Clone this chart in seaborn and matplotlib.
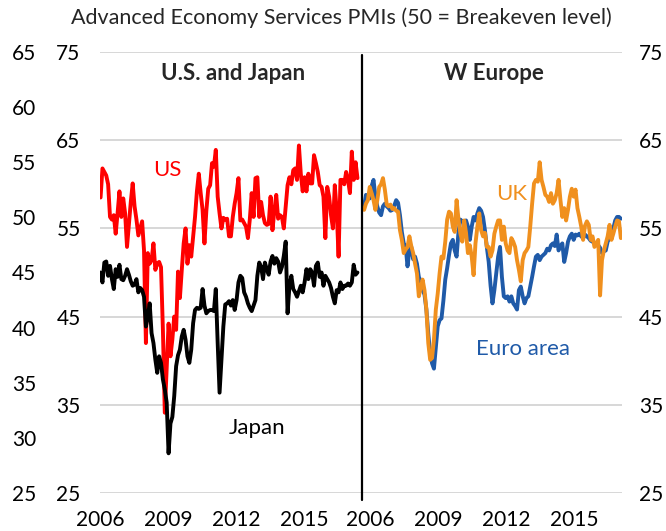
import numpy as np
import pandas as pd
import matplotlib
matplotlib.use("Agg")
import matplotlib.pyplot as plt
from matplotlib.lines import Line2D
from matplotlib.transforms import ScaledTranslation
import seaborn as sns

# ---------------- data (monthly, Jan 2006 .. May 2017) ----------------
us = [58.5, 61.8, 61.4, 61.0, 60.0, 56.3, 56.0, 56.5, 54.4, 56.7, 59.2, 56.3,
      58.4, 56.7, 52.9, 55.5, 58.0, 60.1, 57.5, 56.0, 54.2, 55.0, 55.8, 52.5,
      42.0, 52.2, 51.0, 51.4, 53.3, 50.3, 51.0, 51.2, 50.6, 43.5, 34.1, 39.3,
      44.2, 40.5, 42.4, 45.0, 43.5, 50.1, 47.1, 50.3, 53.3, 55.0, 51.0, 53.1,
      51.8, 54.0, 56.3, 59.2, 61.2, 59.0, 57.1, 53.3, 57.0, 59.5, 59.9, 62.4,
      62.0, 63.9, 58.6, 56.7, 55.0, 56.2, 56.0, 56.1, 54.1, 54.1, 56.3, 57.8,
      59.0, 60.7, 55.9, 56.0, 55.6, 55.2, 53.9, 56.0, 59.0, 56.3, 60.7, 60.8,
      56.3, 58.0, 56.5, 55.6, 55.4, 55.5, 58.6, 54.8, 57.0, 58.8, 56.1, 56.5,
      56.3, 55.0, 57.5, 59.9, 60.8, 60.0, 61.6, 61.8, 60.5, 64.4, 61.2, 59.2,
      60.8, 59.2, 61.2, 60.1, 60.1, 63.3, 62.4, 61.4, 59.9, 59.7, 58.6, 53.9,
      59.7, 58.6, 56.5, 55.0, 59.9, 57.0, 51.8, 60.5, 60.5, 60.0, 61.4, 60.5,
      59.0, 63.7, 60.5, 62.5, 60.7]

japan = [45.0, 44.1, 45.9, 46.0, 44.7, 45.6, 44.4, 43.5, 45.3, 44.6, 45.7, 44.4,
         44.3, 44.7, 45.3, 44.8, 44.2, 43.8, 43.9, 44.4, 43.2, 43.6, 43.4, 42.8,
         40.1, 41.0, 42.2, 39.5, 38.6, 37.1, 35.9, 37.4, 36.8, 35.3, 34.4, 33.2,
         28.6, 31.3, 31.9, 33.8, 36.5, 37.5, 38.0, 39.2, 39.8, 38.9, 37.4, 36.8,
         38.0, 40.4, 41.6, 41.8, 41.7, 41.8, 43.5, 42.0, 41.3, 41.5, 41.6, 41.6,
         41.5, 43.5, 38.6, 34.1, 37.1, 40.1, 42.1, 42.2, 42.4, 42.0, 42.5, 41.6,
         42.5, 44.1, 44.7, 44.5, 43.2, 42.8, 42.2, 41.8, 41.5, 42.0, 42.5, 44.7,
         45.9, 45.5, 44.4, 45.9, 45.3, 44.8, 46.0, 46.5, 45.8, 46.3, 46.0, 45.0,
         45.5, 46.5, 47.8, 41.3, 43.8, 44.7, 43.5, 43.2, 42.8, 43.3, 43.8, 43.2,
         44.1, 45.3, 44.4, 45.3, 45.0, 43.8, 45.6, 45.9, 44.6, 45.0, 43.8, 44.7,
         44.4, 44.1, 43.6, 42.8, 42.2, 43.4, 43.2, 44.1, 43.5, 43.8, 43.8, 44.0,
         43.8, 44.1, 45.7, 44.8, 45.0]

euro = [57.5, 58.8, 58.5, 58.4, 59.8, 60.5, 58.6, 57.5, 56.8, 56.5, 57.5, 57.8,
        57.5, 57.3, 57.0, 57.1, 57.6, 58.2, 57.9, 56.5, 54.6, 53.3, 53.0, 50.7,
        52.5, 52.9, 51.5, 51.8, 51.0, 49.5, 49.0, 48.0, 47.5, 45.8, 43.1, 40.8,
        39.7, 39.1, 41.5, 43.9, 44.6, 44.8, 46.8, 49.2, 50.5, 52.0, 53.3, 53.7,
        52.5, 51.8, 54.6, 56.0, 55.8, 55.8, 55.9, 55.2, 53.7, 55.2, 56.3, 55.9,
        56.7, 57.3, 57.0, 56.3, 54.8, 52.9, 51.2, 48.5, 46.5, 48.0, 49.9, 51.8,
        52.9, 49.5, 47.3, 47.1, 47.3, 46.7, 47.3, 46.5, 46.2, 45.8, 48.0, 48.4,
        47.3, 46.5, 47.1, 47.3, 48.4, 49.5, 50.7, 51.8, 52.0, 51.4, 51.8, 52.0,
        52.2, 52.7, 52.5, 53.1, 53.3, 53.0, 54.3, 52.5, 53.0, 53.3, 51.2, 52.2,
        53.5, 54.1, 54.4, 53.7, 54.3, 54.2, 54.4, 54.1, 53.9, 54.3, 54.1, 53.9,
        53.6, 53.5, 53.3, 53.1, 53.1, 52.8, 52.2, 52.4, 52.5, 53.5, 53.9, 54.6,
        55.0, 55.9, 56.3, 56.3, 56.1]

uk = [57.1, 57.8, 58.2, 59.7, 59.0, 58.2, 57.1, 58.2, 59.7, 60.0, 60.7, 59.4,
      57.7, 57.5, 57.7, 57.2, 57.3, 57.0, 56.9, 54.8, 53.7, 52.2, 52.6, 52.9,
      54.1, 53.0, 52.2, 51.0, 49.9, 47.3, 48.3, 49.2, 48.0, 45.8, 42.0, 40.1,
      40.3, 42.4, 45.8, 47.6, 49.9, 51.8, 51.6, 53.5, 56.0, 56.9, 56.7, 55.2,
      54.6, 58.2, 56.0, 54.4, 53.5, 55.9, 54.5, 52.2, 53.1, 51.8, 49.7, 53.3,
      55.2, 56.7, 54.8, 54.1, 54.5, 52.9, 52.9, 51.8, 52.5, 54.4, 55.2, 55.9,
      55.9, 53.7, 55.2, 53.3, 52.5, 52.2, 53.9, 53.5, 52.9, 51.4, 50.3, 49.0,
      51.4, 52.2, 52.5, 52.9, 55.2, 57.8, 60.1, 60.5, 60.3, 62.5, 60.5, 59.7,
      58.8, 58.6, 58.0, 59.0, 57.8, 58.2, 59.0, 60.5, 58.2, 56.3, 57.3, 55.9,
      57.1, 58.6, 59.5, 58.6, 59.4, 57.3, 56.3, 55.2, 53.7, 55.3, 55.8, 55.4,
      53.7, 54.1, 52.9, 53.3, 53.7, 47.4, 51.4, 52.5, 53.3, 54.1, 55.4, 53.7,
      54.4, 55.2, 55.9, 55.8, 53.9]

year_ticks = [0, 36, 72, 108]
year_labels = ["2006", "2009", "2012", "2015"]
left_ticks = [25, 35, 45, 55, 65, 75]
japan_ticks = [25, 30, 35, 40, 45, 50, 55, 60, 65]

months = np.arange(len(us))
df_left = pd.DataFrame({"m": months, "US": us, "Japan": japan})
df_right = pd.DataFrame({"m": months, "Euro area": euro, "UK": uk})

# ---------------- style ----------------
sns.set_theme(style="white")
FONT = ["Lato", "DejaVu Sans"]
plt.rcParams["font.family"] = FONT

W, H = 666, 531
fig = plt.figure(figsize=(W / 100, H / 100), dpi=100)

def fx(px):
    return px / W

def fy(py):
    return 1 - py / H

y_top, y_bot = 52, 493
axL = fig.add_axes([fx(100), fy(y_bot), fx(262), (y_bot - y_top) / H])
axR = fig.add_axes([fx(362), fy(y_bot), fx(260), (y_bot - y_top) / H])

RED = "#FF0000"
BLUE = "#1F5AA8"
ORANGE = "#F0901E"
GRID = "#D4D4D4"
LW = 2.8
TS = 15   # tick label size
AS = 16   # annotation size

for ax in (axL, axR):
    ax.set_ylim(25, 75)
    ax.set_yticks(left_ticks)
    ax.grid(axis="y", color=GRID, lw=1.3)
    ax.grid(axis="x", visible=False)
    for s in ax.spines.values():
        s.set_visible(False)
    ax.set_xticks(year_ticks)
    ax.set_xticklabels(year_labels)
    ax.tick_params(axis="x", length=0, pad=12, labelsize=TS, labelcolor="black")
    ax.set_facecolor("none")

axL.set_xlim(-0.3, 138.4)
axR.set_xlim(-1.1, 136.6)

# US on inner left axis
sns.lineplot(data=df_left, x="m", y="US", ax=axL, color=RED, lw=LW, legend=False)
axL.tick_params(axis="y", length=0, pad=14, labelsize=TS, labelcolor="black")
axL.set_ylabel("")
axL.set_xlabel("")

# Japan on outer left axis
axJ = axL.twinx()
sns.lineplot(data=df_left, x="m", y="Japan", ax=axJ, color="black", lw=LW, legend=False)
axJ.set_ylim(25, 65)
axJ.set_yticks(japan_ticks)
axJ.yaxis.set_ticks_position("left")
axJ.yaxis.set_label_position("left")
axJ.tick_params(axis="y", length=0, pad=46, labelsize=TS, labelcolor="black")
axJ.grid(False)
for s in axJ.spines.values():
    s.set_visible(False)
axJ.set_ylabel("")
axJ.set_xlabel("")

# Europe
sns.lineplot(data=df_right, x="m", y="Euro area", ax=axR, color=BLUE, lw=LW, legend=False)
sns.lineplot(data=df_right, x="m", y="UK", ax=axR, color=ORANGE, lw=LW, legend=False)
axR.yaxis.tick_right()
axR.tick_params(axis="y", length=0, pad=12, labelsize=TS, labelcolor="black")
axR.set_ylabel("")
axR.set_xlabel("")

# right panel year labels sit slightly right of their ticks in the reference
shift = ScaledTranslation(6 / 100, 0, fig.dpi_scale_trans)
for lab in axR.get_xticklabels():
    lab.set_transform(lab.get_transform() + shift)

# annotations
axL.text(35.5, 61.6, "US", color=RED, fontsize=AS, ha="center", va="center")
axL.text(82.6, 32.4, "Japan", color="black", fontsize=AS, ha="center", va="center")
axR.text(78.3, 58.9, "UK", color=ORANGE, fontsize=AS, ha="center", va="center")
axR.text(84.2, 41.3, "Euro area", color=BLUE, fontsize=AS, ha="center", va="center")
axL.text(69.9, 72.6, "U.S. and Japan", fontsize=16, fontweight="bold", ha="center", va="center")
axR.text(68.8, 72.6, "W Europe", fontsize=16, fontweight="bold", ha="center", va="center")

# divider
fig.add_artist(Line2D([fx(362), fx(362)], [fy(500), fy(55)], color="black", lw=1.6,
                      transform=fig.transFigure))

fig.text(fx(341), fy(18), "Advanced Economy Services PMIs (50 = Breakeven level)",
         fontsize=15.5, ha="center", va="center")

fig.savefig("out.png", dpi=100)
